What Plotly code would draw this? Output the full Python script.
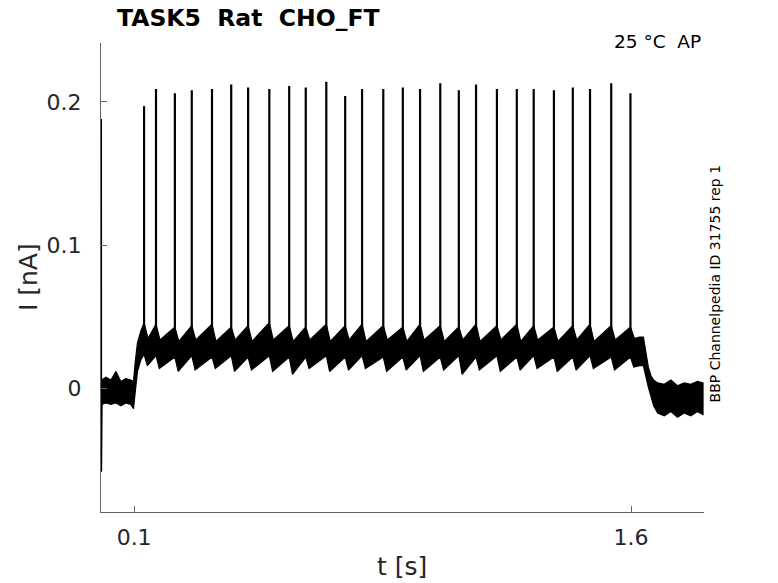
import plotly.graph_objects as go

# -----------------------
# Data (t in s, I in nA)
# -----------------------
# action-potential spikes during the step
spike_t = [0.130, 0.166, 0.223, 0.274, 0.335, 0.393, 0.444, 0.508, 0.568, 0.618,
           0.680, 0.737, 0.788, 0.852, 0.911, 0.963, 1.024, 1.080, 1.132, 1.195,
           1.255, 1.306, 1.367, 1.424, 1.476, 1.540, 1.598]
spike_peak = [0.197, 0.209, 0.206, 0.208, 0.209, 0.212, 0.210, 0.209, 0.211, 0.210,
              0.214, 0.204, 0.209, 0.209, 0.210, 0.209, 0.213, 0.208, 0.212, 0.209,
              0.209, 0.209, 0.208, 0.210, 0.209, 0.213, 0.206]
# noisy band around each spike foot (upper / lower edge)
foot_hi = [0.046, 0.045, 0.043, 0.044, 0.045, 0.043, 0.044, 0.046, 0.044, 0.043,
           0.045, 0.044, 0.045, 0.044, 0.043, 0.045, 0.044, 0.043, 0.045, 0.044,
           0.045, 0.044, 0.043, 0.044, 0.045, 0.044, 0.043]
foot_lo = [0.024, 0.023, 0.022, 0.023, 0.022, 0.023, 0.022, 0.023, 0.022, 0.022,
           0.023, 0.022, 0.023, 0.022, 0.022, 0.023, 0.022, 0.023, 0.022, 0.023,
           0.022, 0.023, 0.022, 0.022, 0.023, 0.022, 0.022]
post_hi = [0.035, 0.034, 0.033, 0.034, 0.033, 0.034, 0.033, 0.034, 0.033, 0.034,
           0.033, 0.034, 0.033, 0.034, 0.033, 0.034, 0.033, 0.034, 0.033, 0.034,
           0.033, 0.034, 0.033, 0.034, 0.033, 0.034, 0.035]
post_lo = [0.016, 0.014, 0.012, 0.013, 0.014, 0.012, 0.013, 0.012, 0.010, 0.014,
           0.012, 0.013, 0.014, 0.012, 0.013, 0.012, 0.013, 0.010, 0.013, 0.012,
           0.013, 0.014, 0.012, 0.013, 0.014, 0.013, 0.015]

# holding level before the step, plus the onset ramp
pre_t = [0.002, 0.015, 0.030, 0.045, 0.060, 0.075, 0.090, 0.098, 0.104, 0.110, 0.120]
pre_hi = [0.006, 0.008, 0.006, 0.012, 0.005, 0.007, 0.006, 0.005, 0.020, 0.032, 0.040]
pre_lo = [-0.011, -0.010, -0.011, -0.010, -0.012, -0.010, -0.011, -0.014, -0.004, 0.012, 0.020]

# end of step and return to holding level
off_t = [1.625, 1.637, 1.645, 1.652, 1.660, 1.668, 1.680, 1.700, 1.720, 1.740,
         1.760, 1.780, 1.800, 1.817]
off_hi = [0.036, 0.036, 0.026, 0.015, 0.009, 0.006, 0.004, 0.003, 0.006, 0.002,
          0.004, 0.003, 0.005, 0.004]
off_lo = [0.016, 0.016, 0.008, 0.001, -0.006, -0.012, -0.017, -0.019, -0.016, -0.020,
          -0.017, -0.019, -0.016, -0.018]

# capacitive transient at t = 0
cap_t = [0.0008, 0.0012, 0.003]
cap_i = [0.188, -0.058, -0.008]

# -----------------------
# Build band outline
# -----------------------
up_t, up_i = list(pre_t), list(pre_hi)
lo_t, lo_i = list(pre_t), list(pre_lo)
for k, t in enumerate(spike_t):
    up_t += [t, t + 0.012]
    up_i += [foot_hi[k], post_hi[k]]
    lo_t += [t, t + 0.010]
    lo_i += [foot_lo[k], post_lo[k]]
up_t += off_t
up_i += off_hi
lo_t += off_t
lo_i += off_lo

band_x = up_t + lo_t[::-1]
band_y = up_i + lo_i[::-1]

sp_x, sp_y = [], []
for k, t in enumerate(spike_t):
    sp_x += [t, t, None]
    sp_y += [foot_lo[k], spike_peak[k], None]

fig = go.Figure()
fig.add_trace(go.Scatter(x=band_x, y=band_y, mode='lines', fill='toself',
                         fillcolor='black', line=dict(color='black', width=1.2),
                         hoverinfo='skip'))
fig.add_trace(go.Scatter(x=sp_x, y=sp_y, mode='lines',
                         line=dict(color='black', width=2.2)))
fig.add_trace(go.Scatter(x=cap_t, y=cap_i, mode='lines',
                         line=dict(color='black', width=1.5)))

axis_col = 'rgb(100,100,100)'
fig.update_layout(
    width=778, height=583, autosize=False,
    margin=dict(l=101, r=74, t=43, b=71),
    plot_bgcolor='white', paper_bgcolor='white',
    showlegend=False,
    font=dict(family='DejaVu Sans', color='#262626'),
    xaxis=dict(range=[0, 1.82], tickvals=[0.1, 1.6], ticktext=['0.1', '1.6'],
               ticks='inside', ticklen=6, tickcolor=axis_col,
               showline=True, linecolor=axis_col, linewidth=1,
               showgrid=False, zeroline=False, automargin=False,
               tickfont=dict(size=22, color='#262626'), ticklabelstandoff=6),
    yaxis=dict(range=[-0.086, 0.241], tickvals=[0, 0.1, 0.2], ticktext=['0', '0.1', '0.2'],
               ticks='inside', ticklen=6, tickcolor=axis_col,
               showline=True, linecolor=axis_col, linewidth=1,
               showgrid=False, zeroline=False, automargin=False,
               tickfont=dict(size=22, color='#262626'), ticklabelstandoff=14),
)

# axis titles
fig.add_annotation(text='t [s]', xref='paper', yref='paper', x=0.499, y=-0.117,
                   xanchor='center', yanchor='middle', showarrow=False,
                   font=dict(size=25, color='#262626'))
fig.add_annotation(text='I [nA]', xref='paper', yref='paper', x=-0.121, y=0.501,
                   xanchor='center', yanchor='middle', textangle=-90, showarrow=False,
                   font=dict(size=25, color='#262626'))

fig.add_annotation(text='<b>TASK5\u00a0\u00a0Rat\u00a0\u00a0CHO_FT</b>', xref='paper', yref='paper',
                   x=0.023, y=1.053, xanchor='left', yanchor='middle', showarrow=False,
                   font=dict(size=23.5, color='black'))
fig.add_annotation(text='25 °C\u00a0\u00a0AP', xref='paper', yref='paper',
                   x=0.998, y=1.004, xanchor='right', yanchor='middle', showarrow=False,
                   font=dict(size=18.5, color='black'))
fig.add_annotation(text='BBP Channelpedia ID 31755 rep 1', xref='paper', yref='paper',
                   x=1.018, y=0.487, xanchor='center', yanchor='middle', textangle=-90,
                   showarrow=False, font=dict(size=14, color='black'))

# drop the default 8px page margin so the figure sits at the window corner
fig.write_html("out.html", config={'displayModeBar': False},
               post_script="document.body.style.margin='0';")
